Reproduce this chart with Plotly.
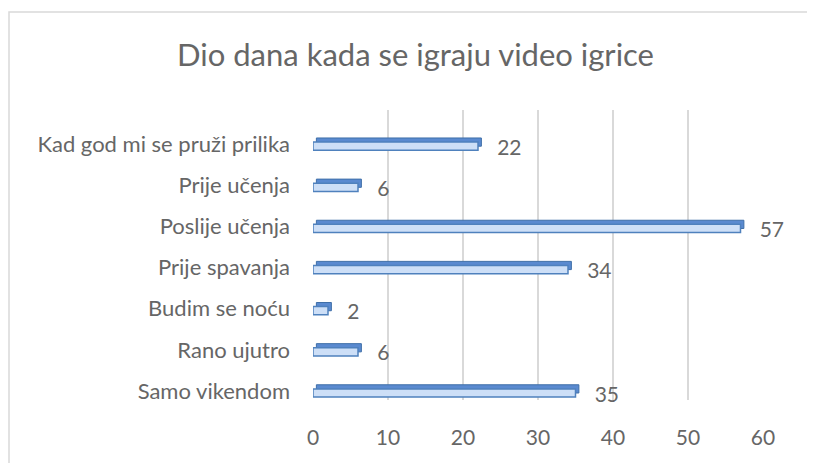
import plotly.graph_objects as go

categories = ["Samo vikendom", "Rano ujutro", "Budim se noću", "Prije spavanja",
              "Poslije učenja", "Prije učenja", "Kad god mi se pruži prilika"]
values = [35, 6, 2, 34, 57, 6, 22]
x_ticks = [0, 10, 20, 30, 40, 50, 60]
title_text = "Dio dana kada se igraju video igrice"

FONT = "Lato"
GRAY = "#666666"

fig = go.Figure()
# depth (top / end face) of the 3D bars
fig.add_trace(go.Bar(
    y=categories, x=values, base=0.45, orientation="h",
    width=0.2, offset=-0.05,
    marker=dict(color="#5a8ad0", line=dict(color="#3f6fa8", width=1)),
    hoverinfo="skip", showlegend=False,
))
# front face
fig.add_trace(go.Bar(
    y=categories, x=values, orientation="h",
    width=0.2, offset=-0.15,
    marker=dict(color="#cddff7", line=dict(color="#4f81bd", width=1.5)),
    text=[f"\u00a0\u00a0\u00a0{v}" for v in values],
    textposition="outside", cliponaxis=False, constraintext="none",
    textfont=dict(family=FONT, size=21, color=GRAY),
    showlegend=False,
))

# page has an 8px body margin, so figure coords = page coords - 8
L, T, R, B = 305, 102, 755, 392
fig.update_layout(
    width=815, height=463,
    margin=dict(l=L, r=815 - R, t=T, b=463 - B),
    paper_bgcolor="white", plot_bgcolor="white",
    title=dict(text=title_text, x=0.5, xref="container", xanchor="center",
               y=1 - 47 / 463, yref="container", yanchor="middle",
               font=dict(family=FONT, size=31, color=GRAY)),
    font=dict(family=FONT, size=21, color=GRAY),
    xaxis=dict(range=[0, 60], tickvals=x_ticks, showgrid=True,
               gridcolor="#d9d9d9", gridwidth=2, zeroline=False,
               showline=False, ticklabelstandoff=23, automargin=False,
               tickfont=dict(family=FONT, size=21, color=GRAY)),
    yaxis=dict(type="category", categoryorder="array", categoryarray=categories,
               range=[-0.22, 6.83], showgrid=False, zeroline=False,
               showline=False, ticklabelstandoff=22, automargin=False,
               tickfont=dict(family=FONT, size=22, color=GRAY)),
    shapes=[dict(type="rect", xref="paper", yref="paper",
                 x0=(1 - L) / (R - L), x1=2, y0=-1, y1=(B - 4) / (B - T),
                 line=dict(color="#d9d9d9", width=1.5), fillcolor="rgba(0,0,0,0)",
                 layer="below")],
)

fig.write_html("out.html")
